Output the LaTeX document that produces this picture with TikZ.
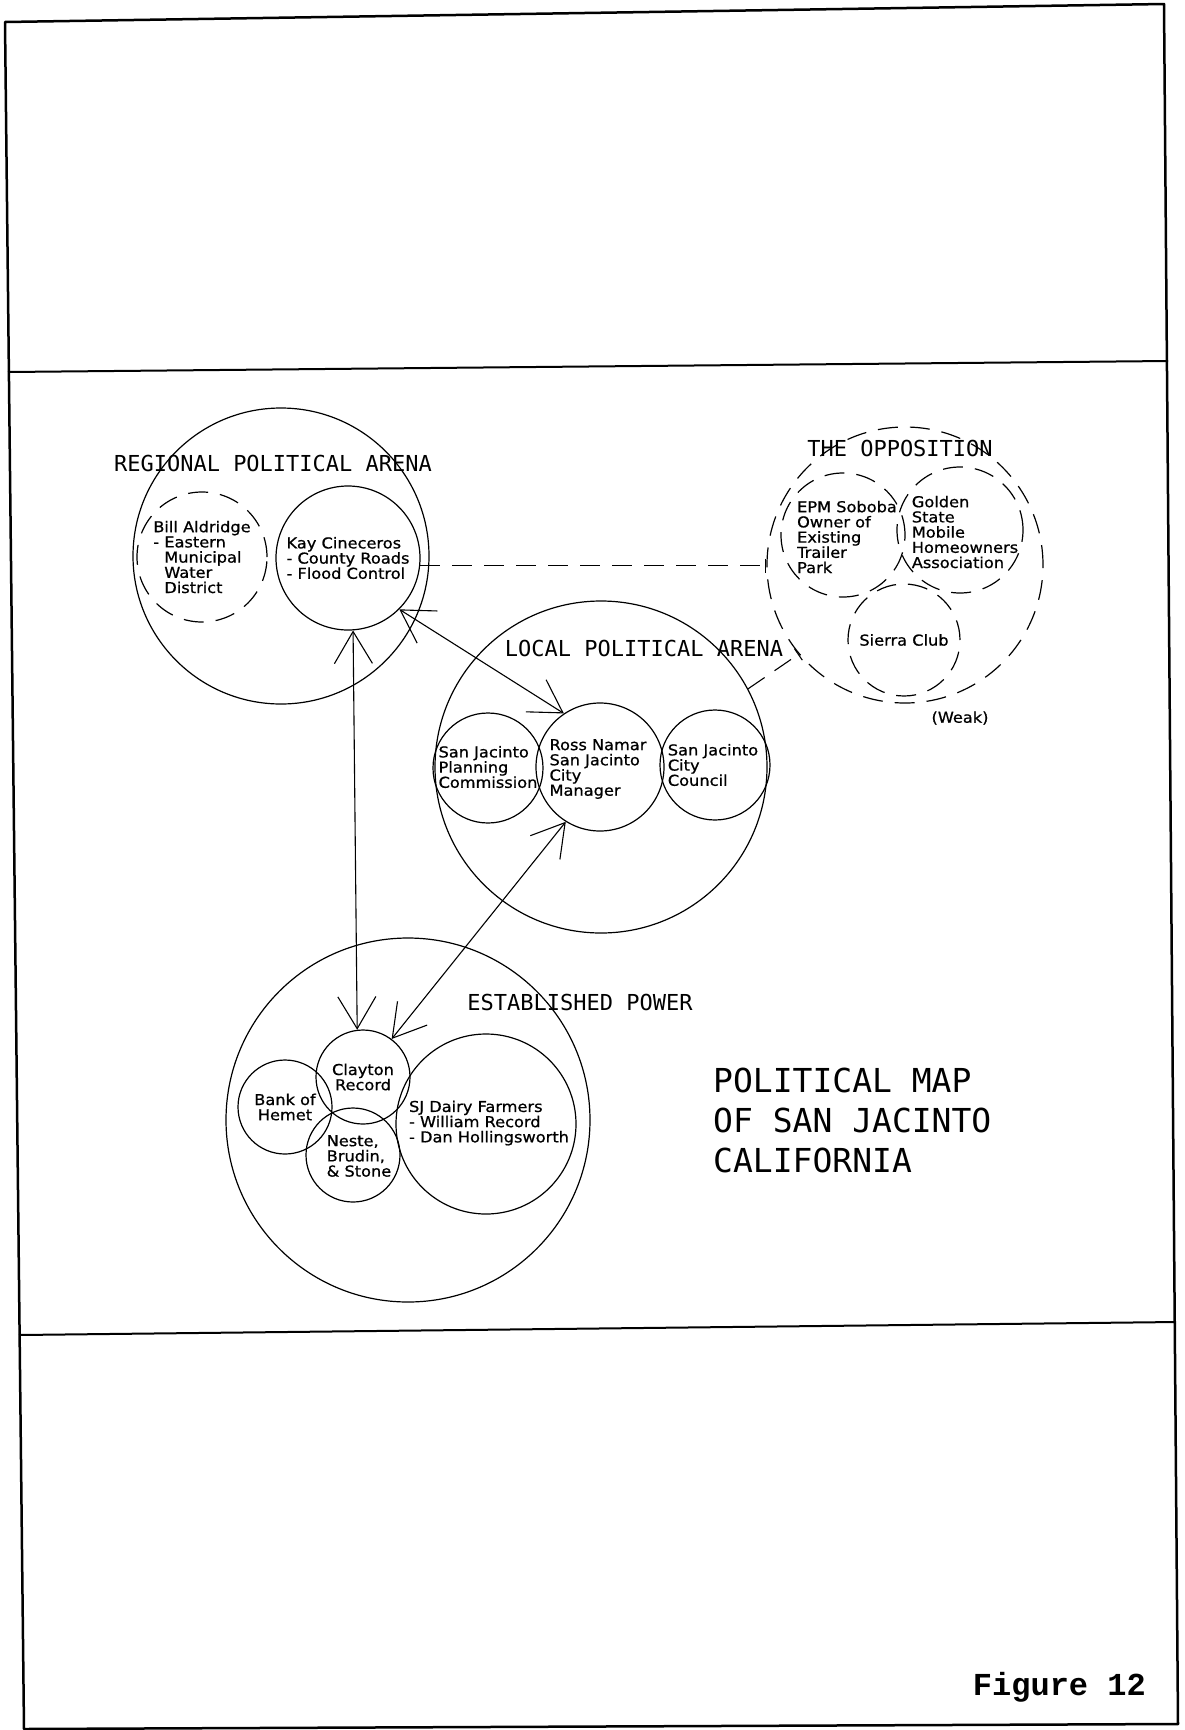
\documentclass[tikz,border=0pt]{standalone}
\usepackage{fontspec}
\setmainfont{DejaVu Sans}
\newfontfamily\labfont[FakeStretch=1.08,FakeBold=0.8]{DejaVu Sans}
\newfontfamily\plotfont{DejaVu Sans Mono}
\newfontfamily\figfont{Liberation Mono}
\usepackage{tikz}
\usetikzlibrary{arrows.meta}

\tikzset{
  ring/.style={circle,draw,line width=1.2pt,inner sep=0pt},
  dring/.style={ring,dash pattern=on 20pt off 12pt},
  txt/.style={inner sep=0pt,align=left,font=\labfont\fontsize{15}{15.2}\selectfont},
  arena/.style={inner sep=0pt,font=\plotfont\fontsize{22}{24}\selectfont},
  link/.style={line width=1.1pt,
    {Straight Barb[length=32pt,width=38pt]}-{Straight Barb[length=32pt,width=38pt]}},
  weak/.style={line width=1.1pt,dash pattern=on 20pt off 12pt,-{Bar[width=14pt]}},
  frame/.style={line width=2.5pt,line join=round}
}

\begin{document}
\begin{tikzpicture}[x=1pt,y=-1pt]
\useasboundingbox (0,0) rectangle (1184,1730);
\draw[frame] (5,22) -- (1164,4) -- (1178,1724) -- (24,1729) -- cycle;
\draw[frame,line width=2pt] (8,372) -- (1168,361);
\draw[frame,line width=2pt] (19,1335) -- (1176,1322);

\node[ring,minimum size=296pt] (reg) at (281,556) {};
\node[arena] (regt) at (273,463) {REGIONAL POLITICAL ARENA};
\node[dring,minimum size=130pt] (bill) at (202,557) {};
\node[txt] (billt) at (bill) {Bill Aldridge\\- Eastern\\\phantom{- }Municipal\\\phantom{- }Water\\\phantom{- }District};
\node[ring,minimum size=144pt] (kay) at (348,558) {};
\node[txt] (kayt) at (kay) {Kay Cineceros\\- County Roads\\- Flood Control};

\node[dring,minimum size=276pt] (opp) at (905,565) {};
\node[arena] (oppt) at (900,448) {THE OPPOSITION};
\node[dring,minimum size=124pt] (epm) at (843,535) {};
\node[txt] (epmt) at (847,537) {EPM Soboba\\Owner of\\Existing\\Trailer\\Park};
\node[dring,minimum size=126pt] (gold) at (960,530) {};
\node[txt] (goldt) at (965,532) {Golden\\State\\Mobile\\Homeowners\\Association};
\node[dring,minimum size=112pt] (sierra) at (904,640) {};
\node[txt] (sierrat) at (sierra) {Sierra Club};
\node[txt] (weakt) at (960,718) {(Weak)};

\node[ring,minimum size=332pt] (local) at (601,767) {};
\node[arena] (localt) at (644,648) {LOCAL POLITICAL ARENA};
\node[ring,minimum size=110pt] (plan) at (488,768) {};
\node[txt] (plant) at (488,767) {San Jacinto\\Planning\\Commission};
\node[ring,minimum size=128pt] (ross) at (600,767) {};
\node[txt] (rosst) at (598,769) {Ross Namar\\San Jacinto\\City\\Manager};
\node[ring,minimum size=110pt] (council) at (715,765) {};
\node[txt] (councilt) at (713,765) {San Jacinto\\City\\Council};

\node[ring,minimum size=364pt] (est) at (408,1120) {};
\node[arena] (estt) at (580,1002) {ESTABLISHED POWER};
\node[ring,minimum size=94pt] (clay) at (363,1077) {};
\node[txt,align=center] (clayt) at (clay) {Clayton\\Record};
\node[ring,minimum size=94pt] (bank) at (285,1107) {};
\node[txt,align=center] (bankt) at (bank) {Bank of\\Hemet};
\node[ring,minimum size=94pt] (neste) at (353,1155) {};
\node[txt] (nestet) at (359,1156) {Neste,\\Brudin,\\\& Stone};
\node[ring,minimum size=180pt] (dairy) at (486,1124) {};
\node[txt] (dairyt) at (489,1123) {SJ Dairy Farmers\\- William Record\\- Dan Hollingsworth};

\node[anchor=west,align=left,inner sep=0pt,font=\plotfont\fontsize{33}{40}\selectfont] (maptitle) at (713,1120) {POLITICAL MAP\\OF SAN JACINTO\\CALIFORNIA};
\node[anchor=base east,inner sep=0pt,font=\figfont\bfseries\fontsize{32}{32}\selectfont] (fig) at (1146,1695) {Figure 12};

\draw[link] (kay.-86) -- (clay.97);
\draw[link] (kay.-45) -- (ross.124);
\draw[link] (ross.-122) -- (clay.53);
\draw[weak] (kay.-6) -- (kay.-6 -| opp.west);
\draw[weak] (local.28) -- (opp.-140);
\end{tikzpicture}
\end{document}
